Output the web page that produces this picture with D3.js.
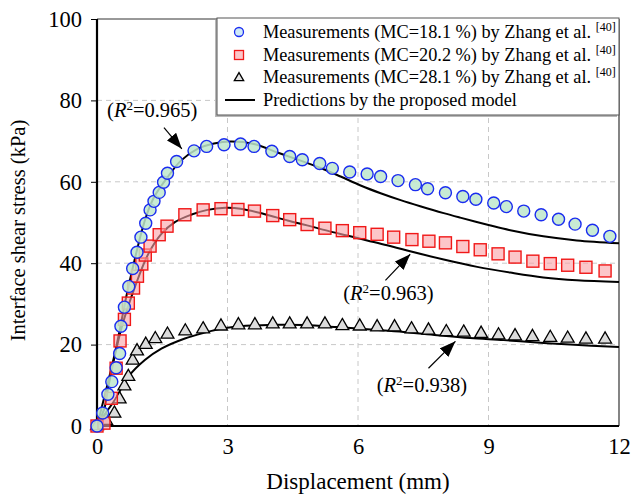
<!DOCTYPE html>
<html>
<head>
<meta charset="utf-8">
<script src="https://cdn.jsdelivr.net/npm/d3@7"></script>
<style>
  body { margin: 0; background: #fff; }
  svg text { font-family: 'Liberation Serif', 'Times New Roman', serif; fill: #000; }
</style>
</head>
<body>
<div id="chart"></div>
<script>
const xTicks = [0, 3, 6, 9, 12]
const yTicks = [0, 20, 40, 60, 80, 100]

// measurements, [displacement mm, stress kPa]
const mc181 = [[0, 0], [0.13, 3.2], [0.25, 7.8], [0.34, 10.9], [0.44, 14.3], [0.52, 17.8], [0.55, 24.5],
  [0.63, 29.2], [0.73, 34.3], [0.82, 38.7], [0.92, 42.7], [1.01, 46.4], [1.12, 49.8], [1.22, 53.1],
  [1.31, 55.2], [1.43, 57.4], [1.53, 59.9], [1.62, 62.1], [1.83, 65.0], [2.23, 67.6], [2.52, 68.7],
  [2.92, 69.1], [3.3, 69.3], [3.61, 68.7], [4.02, 67.5], [4.43, 66.2], [4.72, 65.4], [5.12, 64.5],
  [5.41, 63.3], [5.81, 62.4], [6.21, 61.9], [6.52, 61.3], [6.92, 60.3], [7.32, 59.3], [7.6, 58.3],
  [8.01, 57.3], [8.41, 56.4], [8.71, 55.7], [9.12, 54.8], [9.41, 53.9], [9.81, 52.8], [10.21, 51.9],
  [10.61, 50.8], [10.99, 49.6], [11.39, 48.1], [11.79, 46.6]]
const mc202 = [[0, 0], [0.16, 0.7], [0.33, 6.8], [0.44, 14.2], [0.53, 20.9], [0.63, 26.2], [0.72, 30.2],
  [0.84, 33.9], [0.93, 36.8], [1.03, 39.8], [1.11, 42.0], [1.22, 44.2], [1.43, 47.0], [1.61, 49.1],
  [2.02, 51.9], [2.44, 53.1], [2.85, 53.4], [3.24, 53.2], [3.62, 52.8], [4.04, 51.7], [4.43, 50.7],
  [4.83, 49.5], [5.24, 48.6], [5.64, 48.0], [6.04, 47.5], [6.44, 47.1], [6.82, 46.4], [7.24, 45.8],
  [7.63, 45.4], [8.01, 45.0], [8.41, 44.1], [8.81, 43.3], [9.22, 42.3], [9.61, 41.5], [10.02, 40.5],
  [10.42, 39.9], [10.82, 39.5], [11.24, 39.0], [11.68, 38.1]]
const mc281 = [[0, 0], [0.21, 1.3], [0.4, 3.1], [0.52, 6.6], [0.63, 9.8], [0.72, 12.1], [0.82, 16.1],
  [0.92, 18.4], [1.12, 20.0], [1.34, 21.4], [1.62, 22.5], [2.03, 23.3], [2.44, 23.8], [2.85, 24.5],
  [3.25, 24.8], [3.63, 24.8], [4.04, 25.0], [4.43, 25.0], [4.83, 25.0], [5.24, 25.0], [5.64, 24.6],
  [6.04, 24.5], [6.44, 24.3], [6.84, 24.3], [7.23, 23.8], [7.62, 23.5], [8.03, 23.1], [8.43, 23.0],
  [8.83, 22.7], [9.23, 22.3], [9.61, 22.1], [10.01, 21.9], [10.42, 21.7], [10.82, 21.5], [11.24, 21.3],
  [11.68, 21.3]]

// model predictions
const model181 = [[0, 0], [0.41, 17.8], [0.72, 34.1], [1.1, 50.5], [1.31, 56.2], [1.62, 61.1], [1.93, 65.2],
  [2.31, 68.1], [2.69, 69.4], [3.07, 69.9], [3.61, 69.3], [4.15, 67.2], [4.68, 65.2], [5.14, 63.4],
  [5.6, 61.3], [6.06, 59.1], [6.52, 57.2], [6.98, 55.5], [7.43, 54.0], [7.97, 52.3], [8.35, 51.2],
  [9.0, 49.4], [9.5, 48.1], [10.26, 46.6], [11.03, 45.6], [12.0, 44.9]]
const model202 = [[0, 0], [0.18, 4.7], [0.26, 9.6], [0.57, 24.3], [0.87, 34.1], [1.18, 42.3], [1.48, 47.2],
  [1.79, 50.1], [2.16, 51.9], [2.54, 53.1], [2.95, 53.6], [3.3, 53.4], [3.84, 52.1], [4.38, 50.5],
  [4.83, 49.3], [5.29, 48.0], [5.75, 46.8], [6.21, 45.6], [6.67, 44.4], [7.13, 43.1], [7.97, 40.9],
  [8.74, 39.1], [9.5, 37.7], [10.26, 36.5], [11.03, 35.8], [12.0, 35.4]]
const model281 = [[0, 0], [0.11, 1.9], [0.41, 6.4], [0.72, 12.1], [1.1, 16.2], [1.48, 19.0], [2.02, 21.5],
  [2.5, 23.0], [2.85, 23.9], [3.3, 24.5], [3.61, 24.7], [4.2, 24.9], [4.76, 24.8], [5.52, 24.3],
  [6.29, 23.7], [7.05, 23.1], [7.82, 22.3], [8.58, 21.6], [9.35, 21.1], [10.11, 20.5], [10.88, 20.0],
  [12.0, 19.4]]

const legendLabels = ['Measurements (MC=18.1 %) by Zhang et al. ', 'Measurements (MC=20.2 %) by Zhang et al. ',
  'Measurements (MC=28.1 %) by Zhang et al. ', 'Predictions by the proposed model']
const fitLabels = ['0.965', '0.963', '0.938']

const width = 632
const height = 494
const margin = { top: 19, right: 13, bottom: 68, left: 97 }
const w = width - margin.left - margin.right
const h = height - margin.top - margin.bottom

const svg = d3.select('#chart').append('svg')
  .attr('width', width)
  .attr('height', height)

const g = svg.append('g').attr('transform', `translate(${margin.left},${margin.top})`)

const x = d3.scaleLinear().domain([0, 12]).range([0, w])
const y = d3.scaleLinear().domain([0, 100]).range([h, 0])

// grid
g.append('g').selectAll('line')
  .data(yTicks.filter(d => d > 0 && d < 100))
  .enter().append('line')
  .attr('x1', 0).attr('x2', w)
  .attr('y1', d => y(d)).attr('y2', d => y(d))
  .attr('stroke', '#c8c8c8').attr('stroke-width', 1).attr('stroke-dasharray', '5,4')
g.append('g').selectAll('line')
  .data(xTicks.filter(d => d > 0 && d < 12))
  .enter().append('line')
  .attr('y1', 0).attr('y2', h)
  .attr('x1', d => x(d)).attr('x2', d => x(d))
  .attr('stroke', '#c8c8c8').attr('stroke-width', 1).attr('stroke-dasharray', '5,4')

// frame
g.append('line').attr('x1', 0).attr('x2', w).attr('y1', 0).attr('y2', 0)
  .attr('stroke', '#333').attr('stroke-width', 1)
g.append('line').attr('x1', w).attr('x2', w).attr('y1', 0).attr('y2', h)
  .attr('stroke', '#333').attr('stroke-width', 1.2)

// axes
const yAxis = g.append('g')
  .call(d3.axisLeft(y).tickValues(yTicks).tickSize(6).tickPadding(9))
yAxis.select('.domain').remove()
yAxis.selectAll('.tick line').attr('stroke', '#000')
yAxis.selectAll('text').attr('font-size', 22.5).attr('font-family', 'Liberation Serif')

const xAxis = g.append('g').attr('transform', `translate(0,${h})`)
  .call(d3.axisBottom(x).tickValues(xTicks).tickSize(0).tickPadding(12))
xAxis.select('.domain').remove()
xAxis.selectAll('text').attr('font-size', 22.5).attr('font-family', 'Liberation Serif')

g.append('line').attr('x1', 0).attr('x2', 0).attr('y1', 0).attr('y2', h + 1)
  .attr('stroke', '#000').attr('stroke-width', 2.2)
g.append('line').attr('x1', -1).attr('x2', w).attr('y1', h).attr('y2', h)
  .attr('stroke', '#000').attr('stroke-width', 2.2)

svg.append('text')
  .attr('x', margin.left + w / 2).attr('y', 489)
  .attr('text-anchor', 'middle').attr('font-size', 23)
  .text('Displacement (mm)')
svg.append('text')
  .attr('transform', `translate(25,${margin.top + h / 2 + 8}) rotate(-90)`)
  .attr('text-anchor', 'middle').attr('font-size', 20.5)
  .text('Interface shear stress (kPa)')

// model curves
const line = d3.line().x(d => x(d[0])).y(d => y(d[1])).curve(d3.curveCatmullRom)
const plot = g.append('g')
;[model181, model202, model281].forEach(function (m) {
  plot.append('path').datum(m)
    .attr('d', line)
    .attr('fill', 'none').attr('stroke', '#000').attr('stroke-width', 2)
})

// markers
const triangle = d3.symbol().type(d3.symbolTriangle).size(72)
plot.append('g').selectAll('path')
  .data(mc281)
  .enter().append('path')
  .attr('d', triangle)
  .attr('transform', d => `translate(${x(d[0])},${y(d[1])})`)
  .attr('fill', '#dcdcdc').attr('stroke', '#000').attr('stroke-width', 1.3)

plot.append('g').selectAll('rect')
  .data(mc202)
  .enter().append('rect')
  .attr('x', d => x(d[0]) - 6).attr('y', d => y(d[1]) - 6)
  .attr('width', 12).attr('height', 12)
  .attr('fill', 'rgba(250,160,165,0.6)').attr('stroke', '#f01818').attr('stroke-width', 1.4)

plot.append('g').selectAll('circle')
  .data(mc181)
  .enter().append('circle')
  .attr('cx', d => x(d[0])).attr('cy', d => y(d[1]))
  .attr('r', 6)
  .attr('fill', 'rgba(190,232,205,0.85)').attr('stroke', '#1a2cf0').attr('stroke-width', 1.4)

// R2 annotations: text position and arrow in data units
const notes = [
  { label: fitLabels[0], tx: 1.27, ty: 75.8, from: [1.54, 73.3], to: [1.95, 68.1] },
  { label: fitLabels[1], tx: 6.7, ty: 30.9, from: [6.63, 35.8], to: [7.2, 42.2] },
  { label: fitLabels[2], tx: 7.47, ty: 8.4, from: [7.62, 14.2], to: [8.24, 20.8] }
]

svg.append('defs').append('marker')
  .attr('id', 'head')
  .attr('viewBox', '0 0 16 12')
  .attr('refX', 16).attr('refY', 6)
  .attr('markerWidth', 16).attr('markerHeight', 12)
  .attr('markerUnits', 'userSpaceOnUse')
  .attr('orient', 'auto')
  .append('path').attr('d', 'M0,0 L16,6 L0,12 Z').attr('fill', '#000')

notes.forEach(function (n) {
  g.append('line')
    .attr('x1', x(n.from[0])).attr('y1', y(n.from[1]))
    .attr('x2', x(n.to[0])).attr('y2', y(n.to[1]))
    .attr('stroke', '#000').attr('stroke-width', 1.2)
    .attr('marker-end', 'url(#head)')
  const t = g.append('text')
    .attr('x', x(n.tx)).attr('y', y(n.ty))
    .attr('text-anchor', 'middle').attr('font-size', 20.5)
  t.append('tspan').text('(')
  t.append('tspan').attr('font-style', 'italic').text('R')
  t.append('tspan').attr('font-size', 13).attr('dy', -7).text('2')
  t.append('tspan').attr('dy', 7).text('=' + n.label + ')')
})

// legend
const lg = svg.append('g').attr('transform', 'translate(217,18)')
lg.append('rect').attr('x', -2).attr('y', 2).attr('width', 402).attr('height', 97)
  .attr('fill', '#b8b8b8')
lg.append('rect').attr('x', 0).attr('y', 0).attr('width', 402).attr('height', 97)
  .attr('fill', '#fff').attr('stroke', '#555').attr('stroke-width', 1)

const rowY = [14, 37, 59, 82]
const rows = lg.selectAll('.row')
  .data(legendLabels)
  .enter().append('g')
  .attr('class', 'row')
  .attr('transform', (d, i) => `translate(0,${rowY[i]})`)

rows.append('text')
  .attr('x', 46).attr('y', 6)
  .attr('font-size', 18.3)
  .text(d => d)
  .filter((d, i) => i < 3)
  .append('tspan').attr('font-size', 12).attr('dy', -7).text('[40]')

lg.append('circle').attr('cx', 22).attr('cy', rowY[0]).attr('r', 4.5)
  .attr('fill', '#cfe9f6').attr('stroke', '#1a2cf0').attr('stroke-width', 1.3)
lg.append('rect').attr('x', 22 - 4.5).attr('y', rowY[1] - 4.5).attr('width', 9).attr('height', 9)
  .attr('fill', '#fbc6c8').attr('stroke', '#f01818').attr('stroke-width', 1.3)
lg.append('path').attr('d', d3.symbol().type(d3.symbolTriangle).size(38))
  .attr('transform', `translate(22,${rowY[2] + 1})`)
  .attr('fill', '#e4e4e4').attr('stroke', '#000').attr('stroke-width', 1.3)
lg.append('line').attr('x1', 8).attr('x2', 38).attr('y1', rowY[3]).attr('y2', rowY[3])
  .attr('stroke', '#000').attr('stroke-width', 2)
</script>
</body>
</html>
